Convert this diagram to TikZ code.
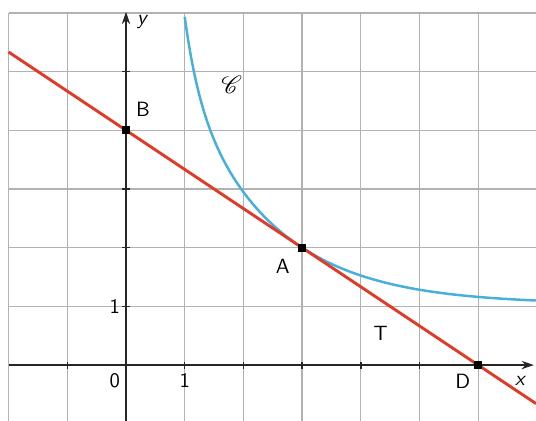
\documentclass[tikz,border=0pt]{standalone}
\usepackage{mathrsfs}
\usetikzlibrary{arrows.meta}

\definecolor{tangred}{RGB}{226,58,40}
\definecolor{curveblue}{RGB}{70,175,220}
\definecolor{gridgray}{RGB}{178,178,178}

\tikzset{
  pt/.style={fill=black, inner sep=0pt, minimum size=4pt, rectangle},
  lbl/.style={font=\sffamily},
  axis/.style={black!85, line width=0.9pt, -{Stealth[length=6pt,width=4pt]}}
}

\begin{document}
\begin{tikzpicture}

\useasboundingbox (-2.147,-0.95) rectangle (6.985,6.22);

% grid
\foreach \x in {-2,...,6}
  \draw [gridgray, line width=0.6pt] (\x,-0.95) -- (\x,6);
\foreach \y in {1,...,6}
  \draw [gridgray, line width=0.6pt] (-2,\y) -- (6.985,\y);

% axes
\draw [axis] (-2,0) -- (6.95,0);
\draw [axis] (0,-0.95) -- (0,6.02);
\foreach \x in {-1,1,2,3,4,5}
  \draw [black!85, line width=0.7pt] (\x,-0.06) -- (\x,0.06);
\foreach \y in {1,2,3,4,5}
  \draw [black!85, line width=0.7pt] (-0.06,\y) -- (0.06,\y);

\node (o) at (-0.19,-0.27) [lbl] {0};
\node (ox) at (1,-0.27) [lbl] {1};
\node (oy) at (-0.19,1) [lbl] {1};
\node (xl) at (6.71,-0.27) [lbl] {\itshape x};
\node (yl) at (0.27,5.85) [lbl] {\itshape y};

% curve C
\draw [curveblue, line width=1.2pt] plot [domain=1.0:6.985, samples=120, smooth]
  (\x, {1 + exp(-2/3*(\x-3)) + 1.2*exp(-4.08*(\x-1))+0.06*(\x-3)/(\x+1)});
\node (cname) at (1.8,4.78) {\large$\mathscr{C}$};

% tangent T
\coordinate (tl) at (-2,5.333);
\coordinate (tr) at (6.985,-0.657);
\draw [tangred, line width=1.4pt] (tl) -- (tr);

\node (B) at (0,4) [pt] {};
\node (A) at (3,2) [pt] {};
\node (D) at (6,0) [pt] {};

\node (bl) at (0.29,4.36) [lbl] {B};
\node (al) at (2.67,1.69) [lbl] {A};
\node (dl) at (5.74,-0.27) [lbl] {D};
\node (tlab) at (4.34,0.54) [lbl] {T};

\end{tikzpicture}
\end{document}
